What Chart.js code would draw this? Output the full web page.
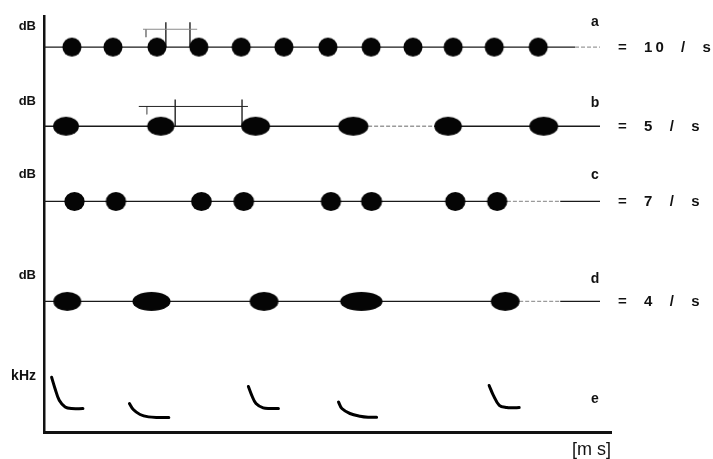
<!DOCTYPE html>
<html><head><meta charset="utf-8">
<script src="https://cdn.jsdelivr.net/npm/chart.js@4.4.1/dist/chart.umd.min.js"></script>
<style>html,body{margin:0;padding:0;background:#fff;}canvas{display:block;}</style>
</head><body>
<canvas id="c" width="713" height="459" style="width:713px;height:459px"></canvas>
<script>
// x = time in ms, y = level in arbitrary plot units
const rowLetters = ['a', 'b', 'c', 'd', 'e'];
const rateLabels = ['=  10  /  s', '=  5  /  s', '=  7  /  s', '=  4  /  s'];
const rowLevels = [38.9, 30.9, 23.3, 13.2];
const unitTicks = [41.0, 33.4, 26.0, 15.8, 5.6];
const unitLabels = ['dB', 'dB', 'dB', 'dB', 'kHz'];

// pulse centres (ms) and durations (ms)
const pulseA = [66, 163, 267, 366, 466, 567, 671, 773, 872, 967, 1064, 1168];
const durA   = [45, 45, 45, 45, 45, 45, 45, 45, 45, 45, 45, 45];
const pulseB = [52, 276, 500, 731, 955, 1181];
const durB   = [61, 64, 68, 71, 65, 68];
const pulseC = [72, 170, 372, 472, 678, 774, 972, 1071];
const durC   = [48, 48, 49, 49, 48, 50, 48, 48];
const pulseD = [55, 254, 520, 750, 1090];
const durD   = [66, 90, 68, 100, 68];

// baseline break points (ms); the second segment is faint in the print
const lineA = [0, 1255, 1314];
const lineB = [0, 766, 922, 1314];
const lineC = [0, 1094, 1220, 1314];
const lineD = [0, 1123, 1220, 1314];

// row e: frequency sweeps (ms, kHz level)
const sweepT = [
  [18, 26, 36, 50, 65, 92],
  [202, 211, 227, 247, 270, 295],
  [483, 491, 501, 518, 534, 554],
  [696, 704, 723, 747, 766, 786],
  [1052, 1062, 1076, 1094, 1106, 1123]
];
const sweepF = [
  [5.53, 4.4, 3.2, 2.53, 2.37, 2.37],
  [2.87, 2.27, 1.77, 1.53, 1.47, 1.47],
  [4.6, 3.7, 2.87, 2.43, 2.37, 2.37],
  [3.03, 2.37, 1.87, 1.6, 1.5, 1.5],
  [4.7, 3.7, 2.7, 2.47, 2.45, 2.47]
];

// interval brackets (ms) above rows a and b
const bracketASpan = [234, 362];
const bracketAMarks = [288, 345];
const bracketAStart = 241;
const bracketBSpan = [224, 482];
const bracketBMarks = [310, 468];
const bracketBStart = 243;

// label anchors
const letterX = 1302;
const letterLevels = [41.45, 33.2, 26.0, 15.4, 3.3];

const PULSE_H = 19;
const imgCache = {};
function pulseImage(w, h) {
  const key = w.toFixed(1);
  if (imgCache[key]) return imgCache[key];
  const cv = document.createElement('canvas');
  cv.width = Math.ceil(w) + 2; cv.height = h + 2;
  const g = cv.getContext('2d');
  g.fillStyle = '#050505';
  g.beginPath();
  g.ellipse(cv.width / 2, cv.height / 2, w / 2, h / 2, 0, 0, Math.PI * 2);
  g.fill();
  imgCache[key] = cv;
  return cv;
}

function pulseDataset(centers, durs, level) {
  return {
    type: 'scatter',
    order: 0,
    data: centers.map((c, i) => ({ x: c, y: level, d: durs[i] })),
    pointRadius: 1,
    pointStyle: (ctx) => {
      if (!ctx.raw) return 'circle';
      const xs = ctx.chart.scales.x;
      const w = Math.abs(xs.getPixelForValue(ctx.raw.d) - xs.getPixelForValue(0));
      return pulseImage(w, PULSE_H);
    },
    showLine: false
  };
}

function baseline(points, level) {
  return {
    type: 'scatter', order: 5, showLine: true,
    data: points.map(p => ({ x: p, y: level })),
    borderColor: '#1a1a1a', borderWidth: 1.3, pointRadius: 0,
    segment: {
      borderColor: c => (c.p0DataIndex === 1 ? '#9a9a9a' : '#1a1a1a'),
      borderDash: c => (c.p0DataIndex === 1 ? [4, 2] : [])
    }
  };
}

function sweep(ts, fs) {
  return {
    type: 'scatter', order: 3, showLine: true,
    data: ts.map((t, i) => ({ x: t, y: fs[i] })),
    borderColor: '#000', borderWidth: 3, pointRadius: 0, tension: 0.35,
    borderCapStyle: 'round', borderJoinStyle: 'round'
  };
}

function bracket(span, marks, start, level, top, bottom, hColor) {
  const sets = [];
  sets.push({ type: 'scatter', order: 4, showLine: true, pointRadius: 0,
    borderColor: hColor, borderWidth: 1,
    data: [{ x: span[0], y: level }, { x: span[1], y: level }] });
  marks.forEach(m => sets.push({ type: 'scatter', order: 4, showLine: true, pointRadius: 0,
    borderColor: '#111', borderWidth: 1.3,
    data: [{ x: m, y: top }, { x: m, y: bottom }] }));
  sets.push({ type: 'scatter', order: 4, showLine: true, pointRadius: 0,
    borderColor: '#888', borderWidth: 1,
    data: [{ x: start, y: level }, { x: start, y: level - 0.8 }] });
  return sets;
}

const datasets = [
  pulseDataset(pulseA, durA, rowLevels[0]),
  pulseDataset(pulseB, durB, rowLevels[1]),
  pulseDataset(pulseC, durC, rowLevels[2]),
  pulseDataset(pulseD, durD, rowLevels[3]),
  baseline(lineA, rowLevels[0]),
  baseline(lineB, rowLevels[1]),
  baseline(lineC, rowLevels[2]),
  baseline(lineD, rowLevels[3]),
  ...sweepT.map((t, i) => sweep(t, sweepF[i])),
  ...bracket(bracketASpan, bracketAMarks, bracketAStart, 40.7, 41.4, rowLevels[0], '#8a8a8a'),
  ...bracket(bracketBSpan, bracketBMarks, bracketBStart, 32.9, 33.6, rowLevels[1], '#222')
];

const FONT = '"Liberation Sans", Arial, Helvetica, sans-serif';

const rowLabelPlugin = {
  id: 'rowLabels',
  afterDatasetsDraw(chart) {
    const { ctx, scales: { x, y } } = chart;
    ctx.save();
    ctx.fillStyle = '#111';
    ctx.font = 'bold 14px ' + FONT;
    ctx.textAlign = 'center';
    ctx.textBaseline = 'middle';
    rowLetters.forEach((t, i) => ctx.fillText(t, x.getPixelForValue(letterX), y.getPixelForValue(letterLevels[i])));
    ctx.textAlign = 'left';
    ctx.font = 'bold 15px ' + FONT;
    ctx.letterSpacing = '3px';
    rateLabels.forEach((t, i) => ctx.fillText(t, x.right + 7, y.getPixelForValue(rowLevels[i]) + 0.5));
    ctx.restore();
    // spacing for the x-axis title, drawn next (z = 1)
    ctx.letterSpacing = '4px';
  },
  afterDraw(chart) { chart.ctx.letterSpacing = '0px'; }
};

new Chart(document.getElementById('c'), {
  type: 'scatter',
  data: { datasets },
  options: {
    responsive: false,
    animation: false,
    devicePixelRatio: 1,
    events: [],
    layout: { padding: { top: 12, right: 102, left: 0, bottom: 0 } },
    plugins: { legend: { display: false }, tooltip: { enabled: false } },
    scales: {
      x: {
        type: 'linear', min: 0, max: 1340, z: 1,
        grid: { display: false, drawTicks: false },
        border: { display: true, color: '#111', width: 3 },
        ticks: { display: false },
        title: { display: true, text: '[m s]', align: 'end', color: '#111',
          font: { family: FONT, size: 18, lineHeight: 1.0 }, padding: { top: 0, bottom: 0 } },
        afterFit: s => { s.height = 27; }
      },
      y: {
        type: 'linear', min: 0, max: 42,
        grid: { display: false, drawTicks: false },
        border: { display: true, color: '#111', width: 2.5 },
        afterBuildTicks: s => { s.ticks = unitTicks.map(v => ({ value: v })); },
        ticks: {
          autoSkip: false, padding: 8, color: '#111',
          font: (c) => ({ family: FONT, size: unitLabels[c.index] === 'kHz' ? 14 : 13, weight: 'bold' }),
          callback: (v, i) => unitLabels[i]
        },
        afterFit: s => { s.width = 44; }
      }
    }
  },
  plugins: [rowLabelPlugin]
});
</script>
</body></html>
